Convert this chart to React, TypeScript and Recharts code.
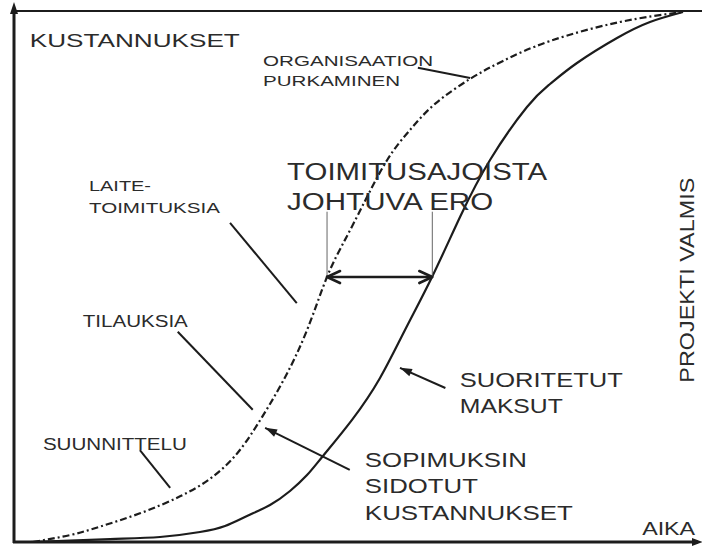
import React from "react";
import { LineChart, Line, XAxis, YAxis, ReferenceLine, ReferenceDot } from "recharts";

// Cumulative cost curves: time (0-100) vs cost (0-100)
const sidotutAika = [
  2.76, 8.14, 12.5, 18.31, 24.13, 28.49, 32.12, 35.32, 39.1, 42.59, 45.49,
  48.11, 50.73, 54.22, 57.56, 61.19, 66.28, 71.08, 77.91, 88.08, 97.24,
];
const sidotutKust = [
  0, 1.3, 2.9, 5.4, 8.6, 11.9, 16.2, 22.0, 30.3, 39.9, 49.9,
  56.9, 63.5, 71.9, 77.6, 82.5, 87.2, 90.6, 94.35, 97.93, 99.81,
];

const maksutAika = [
  2.33, 13.95, 21.22, 27.03, 30.67, 33.87, 37.21, 40.12, 42.59, 44.91, 49.13,
  53.2, 56.83, 60.76, 64.83, 69.19, 74.56, 77.91, 81.83, 87.65, 92.44, 97.24,
];
const maksutKust = [
  0, 0.56, 0.94, 1.88, 3.01, 4.9, 6.97, 9.6, 12.6, 16.2, 23.0,
  30.89, 39.92, 49.91, 61.21, 71.94, 81.92, 86.25, 90.21, 94.92, 97.93, 99.81,
];

const sidotut = sidotutAika.map((x, i) => ({ x, y: sidotutKust[i] }));
const maksut = maksutAika.map((x, i) => ({ x, y: maksutKust[i] }));

const INK = "#1c1c1c";
const TEXT = "#2b2b2b";
const FONT = "'Liberation Sans', Arial, sans-serif";

// Text labels: anchor (x, y) in chart units, font size and drawn width
type Teksti = { t: string; x: number; y: number; size: number; w: number; rotate?: boolean };
const tekstit: Teksti[] = [
  { t: "KUSTANNUKSET", x: 2.3, y: 93.2, size: 19, w: 210 },
  { t: "ORGANISAATION", x: 36.2, y: 89.6, size: 15, w: 170 },
  { t: "PURKAMINEN", x: 36.2, y: 85.9, size: 15, w: 137 },
  { t: "LAITE-", x: 10.9, y: 66.1, size: 15, w: 62 },
  { t: "TOIMITUKSIA", x: 10.9, y: 62.0, size: 15, w: 131 },
  { t: "TOIMITUSAJOISTA", x: 39.7, y: 68.2, size: 23, w: 260 },
  { t: "JOHTUVA ERO", x: 39.7, y: 62.5, size: 23, w: 206 },
  { t: "TILAUKSIA", x: 10.0, y: 40.5, size: 16, w: 105 },
  { t: "SUUNNITTELU", x: 4.2, y: 17.3, size: 16, w: 144 },
  { t: "SUORITETUT", x: 64.8, y: 29.2, size: 21, w: 163 },
  { t: "MAKSUT", x: 64.8, y: 24.3, size: 21, w: 103 },
  { t: "SOPIMUKSIN", x: 51.0, y: 14.1, size: 21, w: 162 },
  { t: "SIDOTUT", x: 51.0, y: 9.2, size: 21, w: 113 },
  { t: "KUSTANNUKSET", x: 51.0, y: 4.1, size: 21, w: 208 },
  { t: "AIKA", x: 91.3, y: 1.3, size: 18, w: 53 },
  { t: "PROJEKTI VALMIS", x: 98.8, y: 49.3, size: 20, w: 205, rotate: true },
];

// Leader lines from labels to curves
type Viiva = { from: [number, number]; to: [number, number]; kind: "plain" | "head" | "double" | "thin" };
const viivat: Viiva[] = [
  { from: [58.7, 89.3], to: [66.3, 87.4], kind: "plain" },
  { from: [31.4, 60.1], to: [41.1, 45.0], kind: "plain" },
  { from: [23.8, 39.6], to: [34.7, 24.9], kind: "plain" },
  { from: [18.3, 17.3], to: [22.7, 10.2], kind: "plain" },
  { from: [62.7, 29.0], to: [56.1, 32.8], kind: "head" },
  { from: [48.8, 13.6], to: [36.5, 21.5], kind: "head" },
  { from: [45.5, 62.2], to: [45.5, 49.9], kind: "thin" },
  { from: [60.8, 62.2], to: [60.8, 49.9], kind: "thin" },
  { from: [45.5, 49.9], to: [60.8, 49.9], kind: "double" },
];

function filledHead(x: number, y: number, ux: number, uy: number, len: number, half: number) {
  const bx = x - ux * len;
  const by = y - uy * len;
  return `${x},${y} ${bx - uy * half},${by + ux * half} ${bx + uy * half},${by - ux * half}`;
}

function openHead(x: number, y: number, ux: number, uy: number, len: number, half: number) {
  const bx = x - ux * len;
  const by = y - uy * len;
  return `M${bx - uy * half},${by + ux * half} L${x},${y} L${bx + uy * half},${by - ux * half}`;
}

function LeaderShape(props: any) {
  const { x1, y1, x2, y2, kind } = props;
  const dx = x2 - x1;
  const dy = y2 - y1;
  const d = Math.hypot(dx, dy) || 1;
  const ux = dx / d;
  const uy = dy / d;
  if (kind === "thin") {
    return <line x1={x1} y1={y1} x2={x2} y2={y2} stroke="#666" strokeWidth={1} />;
  }
  if (kind === "double") {
    return (
      <g fill="none" stroke={INK} strokeWidth={2.6} strokeLinecap="round" strokeLinejoin="round">
        <line x1={x1 + 2} y1={y1} x2={x2 - 2} y2={y2} />
        <path d={openHead(x2, y2, ux, uy, 13, 6)} />
        <path d={openHead(x1, y1, -ux, -uy, 13, 6)} />
      </g>
    );
  }
  return (
    <g>
      <line x1={x1} y1={y1} x2={x2} y2={y2} stroke={INK} strokeWidth={2} />
      {kind === "head" && <polygon points={filledHead(x2, y2, ux, uy, 12, 4)} fill={INK} />}
    </g>
  );
}

// Frame lines with arrowheads at the axis ends
function AxisShape(props: any) {
  const { x1, y1, x2, y2, arrow } = props;
  if (arrow === "up") {
    return (
      <g>
        <line x1={x1} y1={y1 + 1} x2={x2} y2={y2 - 2} stroke={INK} strokeWidth={3} />
        <polygon points={`${x2},${y2 - 9} ${x2 - 4},${y2 + 3} ${x2 + 4},${y2 + 3}`} fill={INK} />
      </g>
    );
  }
  if (arrow === "right") {
    return (
      <g>
        <line x1={x1 - 1} y1={y1} x2={x2 - 4} y2={y2} stroke={INK} strokeWidth={3} />
        <polygon points={`${x2 + 1},${y2} ${x2 - 10},${y2 - 4} ${x2 - 10},${y2 + 4}`} fill={INK} />
      </g>
    );
  }
  return <line x1={x1} y1={y1} x2={x2} y2={y2} stroke={INK} strokeWidth={2} />;
}

function LabelShape(props: any) {
  const { cx, cy, item } = props;
  const tk = item as Teksti;
  return (
    <text
      x={cx}
      y={cy}
      fontFamily={FONT}
      fontSize={tk.size}
      fill={TEXT}
      textLength={tk.w}
      lengthAdjust="spacingAndGlyphs"
      textAnchor={tk.rotate ? "middle" : "start"}
      transform={tk.rotate ? `rotate(-90 ${cx} ${cy})` : undefined}
    >
      {tk.t}
    </text>
  );
}

export default function App() {
  return (
    <div style={{ position: "fixed", left: 0, top: 0, background: "#fff" }}>
      <LineChart width={702} height={547} margin={{ top: 11, right: 0, bottom: 5, left: 14 }}>
        <XAxis type="number" dataKey="x" domain={[0, 100]} hide />
        <YAxis type="number" dataKey="y" domain={[0, 100]} hide />

        <ReferenceLine
          segment={[{ x: 0, y: 100 }, { x: 100, y: 100 }]}
          ifOverflow="visible"
          shape={(p: any) => <AxisShape {...p} arrow="none" />}
        />
        <ReferenceLine
          segment={[{ x: 0, y: 0 }, { x: 0, y: 100 }]}
          ifOverflow="visible"
          shape={(p: any) => <AxisShape {...p} arrow="up" />}
        />
        <ReferenceLine
          segment={[{ x: 0, y: 0 }, { x: 100, y: 0 }]}
          ifOverflow="visible"
          shape={(p: any) => <AxisShape {...p} arrow="right" />}
        />

        <Line
          data={sidotut}
          dataKey="y"
          type="natural"
          stroke={INK}
          strokeWidth={2.2}
          strokeDasharray="7 3 2 3"
          dot={false}
          activeDot={false}
          isAnimationActive={false}
        />
        <Line
          data={maksut}
          dataKey="y"
          type="natural"
          stroke={INK}
          strokeWidth={2.2}
          dot={false}
          activeDot={false}
          isAnimationActive={false}
        />

        {viivat.map((v, i) => (
          <ReferenceLine
            key={`v-${i}`}
            segment={[{ x: v.from[0], y: v.from[1] }, { x: v.to[0], y: v.to[1] }]}
            ifOverflow="visible"
            shape={(p: any) => <LeaderShape {...p} kind={v.kind} />}
          />
        ))}

        {tekstit.map((tk, i) => (
          <ReferenceDot
            key={`t-${i}`}
            x={tk.x}
            y={tk.y}
            r={0}
            ifOverflow="visible"
            shape={(p: any) => <LabelShape {...p} item={tk} />}
          />
        ))}
      </LineChart>
    </div>
  );
}
